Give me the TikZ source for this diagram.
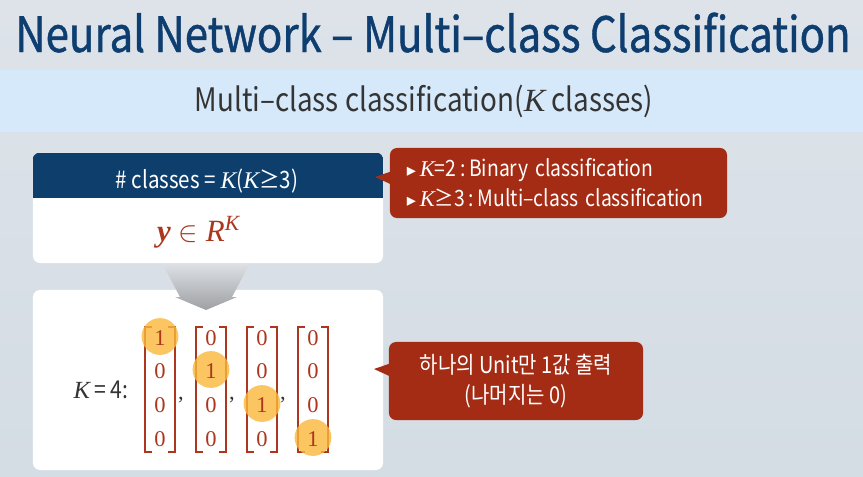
\documentclass[tikz,border=0pt]{standalone}
\usepackage{fontspec}
\setmainfont{Noto Sans CJK KR}[FakeStretch=0.86]
\newfontfamily\titlefont{Noto Sans CJK KR}[FakeStretch=0.86, FakeBold=0.9]
\newfontfamily\serifvar{Liberation Serif}
\newfontfamily\symbolfont{DejaVu Sans}
\usetikzlibrary{positioning}

\definecolor{titleblue}{RGB}{14,62,112}
\definecolor{bandblue}{RGB}{214,233,250}
\definecolor{headblue}{RGB}{14,62,108}
\definecolor{notered}{RGB}{164,44,20}
\definecolor{vecred}{RGB}{172,54,30}
\definecolor{hlorange}{RGB}{251,184,58}
\definecolor{textgray}{RGB}{52,52,52}
\definecolor{bgtop}{RGB}{221,227,233}
\definecolor{bgbot}{RGB}{212,220,228}
\definecolor{arrowtop}{RGB}{222,226,230}
\definecolor{arrowbot}{RGB}{158,160,163}

\newcommand{\kv}{{\serifvar\itshape K}}
\newcommand{\tri}{{\symbolfont\fontsize{13}{13}\selectfont ▸}}

\begin{document}
\begin{tikzpicture}[
    x=0.025cm, y=-0.025cm,
    panel/.style={fill=white, rounded corners=5pt, inner sep=0pt},
    note/.style={fill=notered, rounded corners=5pt, text=white, inner sep=0pt,
                 font=\fontsize{16}{21.3}\selectfont},
    entry/.style={font=\serifvar\fontsize{16}{16}\selectfont, text=vecred, inner sep=0pt},
    hilite/.style={circle, fill=hlorange, fill opacity=0.8, minimum size=0.92cm, inner sep=0pt},
    bracket/.style={draw=vecred, line width=0.8pt},
]
  % ---------------- background ----------------
  \shade[top color=bgtop, bottom color=bgbot] (0,0) rectangle (863,476);
  \useasboundingbox (0,0) rectangle (863,476);
  \fill[bandblue] (0,70) rectangle (863,132);

  % ---------------- titles ----------------
  \node[anchor=base, text=titleblue, font=\titlefont\fontsize{34.7}{40}\selectfont, inner sep=0pt] (title)
       at (433,52) {Neural Network – Multi–class Classification};
  \node[anchor=base, text=textgray, font=\fontsize{23}{27}\selectfont, inner sep=0pt] (subtitle)
       at (424,111) {Multi–class classification(\kv\ classes)};

  % ---------------- definition box ----------------
  \node[panel, minimum width=8.75cm, minimum height=2.75cm] (defbox) at (208,208) {};
  \coordinate (hdrcut) at (383,198);
  \begin{scope}
    \clip[rounded corners=5pt] (defbox.north west) rectangle (defbox.south east);
    \fill[headblue] (defbox.north west) rectangle (hdrcut);
  \end{scope}
  \node[anchor=base, text=white, font=\fontsize{17}{20}\selectfont, inner sep=0pt] (hdrtext)
       at (207,188) {\# classes = \kv(\kv≥3)};
  \node[anchor=base, text=vecred, font=\serifvar\fontsize{22}{26}\selectfont, inner sep=0pt] (ydef)
       at (199,241) {\textbf{\textit{y}} $\in$ \textit{R}\textsuperscript{\textit{K}}};

  % ---------------- example box ----------------
  \node[panel, minimum width=8.75cm, minimum height=4.5cm] (vecbox) at (208,380) {};
  \shade[top color=arrowtop, bottom color=arrowbot]
       (162,263) -- (250,263) -- (232,297) -- (237,297) -- (206,310)
       -- (175,297) -- (180,297) -- cycle;
  \node[anchor=base, text=textgray, font=\fontsize{17.5}{20}\selectfont, inner sep=0pt] (klabel)
       at (101,398) {\kv\,= 4:};
  \foreach \c/\x in {1/160,2/211,3/262,4/313} {
    \draw[bracket] (\x-8,327) -- (\x-15,327) -- (\x-15,452) -- (\x-8,452);
    \draw[bracket] (\x+8,327) -- (\x+15,327) -- (\x+15,452) -- (\x+8,452);
    \foreach \r/\y in {1/338.5,2/371.5,3/405.5,4/439.5} {
      \pgfmathtruncatemacro\val{\r==\c ? 1 : 0}
      \ifnum\val=1
        \node[hilite] (hl\c) at (\x,\y-2) {};
      \fi
      \node[entry] (v\c\r) at (\x,\y) {\val};
    }
  }
  \foreach \c/\x in {1/181,2/232,3/283}
    \node[entry, text=textgray, anchor=base] (comma\c) at (\x,399) {,};

  % ---------------- notes ----------------
  \node[note, minimum width=8.425cm, minimum height=1.75cm, text width=7.575cm,
        inner xsep=0.425cm, align=left] (kcases) at (558.5,183)
       {\tri\,\kv=2\,:\,Binary classification\\\tri\,\kv≥3\,:\,Multi–class classification};
  \coordinate (kcasesTip) at (375,177);
  \fill[notered] ([xshift=2pt, yshift=0.3cm]kcases.west) -- (kcasesTip)
       -- ([xshift=2pt, yshift=-0.05cm]kcases.west) -- cycle;

  \node[note, minimum width=6.35cm, minimum height=1.95cm, align=center,
        font=\fontsize{16.5}{21.3}\selectfont] (onehot) at (516,381)
       {하나의 Unit만 1값 출력\\(나머지는 0)};
  \coordinate (onehotTip) at (374,369);
  \fill[notered] ([xshift=2pt, yshift=0.45cm]onehot.west) -- (onehotTip)
       -- ([xshift=2pt, yshift=0.1cm]onehot.west) -- cycle;
\end{tikzpicture}
\end{document}
